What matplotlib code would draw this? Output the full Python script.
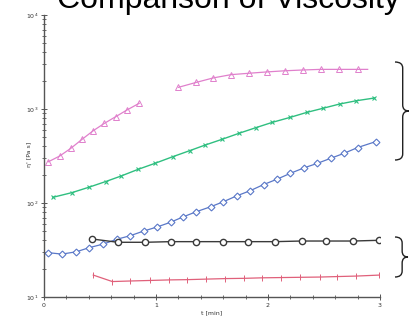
import matplotlib.pyplot as plt
import numpy as np
from matplotlib.path import Path
from matplotlib.patches import PathPatch
from matplotlib.ticker import MultipleLocator

# data (t in min, eta' in Pa s)
pink_t1 = [0.04, 0.14, 0.24, 0.34, 0.44, 0.54, 0.64, 0.74, 0.85]
pink_v1 = [275, 316, 382, 476, 588, 705, 828, 975, 1150]
pink_t2 = [1.20, 1.36, 1.51, 1.67, 1.83, 1.99, 2.15, 2.31, 2.47, 2.63, 2.80, 2.89]
pink_v2 = [1700, 1920, 2140, 2320, 2400, 2480, 2550, 2600, 2640, 2640, 2640, 2640]

green_t = [0.08, 0.25, 0.40, 0.55, 0.69, 0.84, 0.99, 1.15, 1.30, 1.44,
           1.59, 1.74, 1.89, 2.04, 2.20, 2.35, 2.49, 2.64, 2.79, 2.95]
green_v = [115, 129, 147, 169, 194, 228, 264, 311, 360, 414,
           476, 551, 632, 722, 816, 923, 1017, 1130, 1225, 1309]

blue_t = [0.04, 0.16, 0.29, 0.40, 0.53, 0.65, 0.77, 0.89, 1.01, 1.13,
          1.24, 1.36, 1.49, 1.60, 1.72, 1.84, 1.96, 2.08, 2.20, 2.32,
          2.44, 2.56, 2.68, 2.80, 2.96]
blue_v = [29.6, 28.6, 30.3, 33.4, 36.6, 41.1, 44.9, 50.3, 55.6, 62.4,
          71.0, 80.8, 91.4, 103, 119, 135, 157, 179, 207, 236,
          264, 299, 338, 389, 449]

black_t = [0.43, 0.66, 0.90, 1.13, 1.36, 1.60, 1.82, 2.06, 2.30, 2.52, 2.76, 2.99]
black_v = [41.4, 38.2, 38.2, 38.8, 38.8, 38.8, 38.8, 38.8, 39.4, 39.4, 39.4, 40.1]

red_t = [0.44, 0.61, 0.77, 0.95, 1.12, 1.28, 1.45, 1.62, 1.79, 1.95,
         2.12, 2.29, 2.46, 2.62, 2.79, 2.99]
red_v = [17.1, 14.6, 14.8, 15.0, 15.2, 15.3, 15.5, 15.7, 15.8, 16.0,
         16.1, 16.2, 16.3, 16.5, 16.7, 17.1]

fig = plt.figure(figsize=(4.1, 3.24), dpi=100)
ax = fig.add_axes([44 / 410, 27 / 324, 336 / 410, 282 / 324])

pink = '#e080cc'
ax.plot(pink_t1, pink_v1, color=pink, lw=0.9, marker='^', ms=4, mfc='none', mew=0.7)
ax.plot(pink_t2, pink_v2, color=pink, lw=0.9, marker='^', ms=4, mfc='none', mew=0.7,
        markevery=list(range(len(pink_t2) - 1)))
ax.plot(green_t, green_v, color='#2fbf80', lw=1.0, marker='x', ms=2.5, mew=0.8)
ax.plot(blue_t, blue_v, color='#5a78c8', lw=0.9, marker='D', ms=3.5, mfc='white', mew=0.8)
ax.plot(black_t, black_v, color='#3a3a3a', lw=1.0, marker='o', ms=4.5, mfc='white', mew=1.0)
ax.plot(red_t, red_v, color='#e0607a', lw=0.9, marker='|', ms=4, mew=0.7)

ax.set_yscale('log')
ax.set_xlim(0, 3)
ax.set_ylim(10, 10000)
ax.xaxis.set_major_locator(MultipleLocator(1))
ax.xaxis.set_minor_locator(MultipleLocator(0.2))
for s in ['top', 'right']:
    ax.spines[s].set_visible(False)
for s in ['left', 'bottom']:
    ax.spines[s].set_color('#555555')
    ax.spines[s].set_linewidth(1.0)
ax.tick_params(which='both', direction='inout', colors='#555555', labelsize=4.5,
               labelcolor='#333333', pad=2)
ax.tick_params(which='major', length=4, width=0.7)
ax.tick_params(which='minor', length=2.5, width=0.6)

ax.set_xlabel('t [min]', fontsize=4.5, color='#333333', labelpad=2)
ax.set_ylabel("η' [Pa s]", fontsize=4.5, color='#333333')
ax.yaxis.set_label_coords(-0.035, 0.504)

fig.text(57 / 410, 1 - 8 / 324, 'Comparison of Viscosity', fontsize=23,
         family='Liberation Sans', ha='left', va='baseline', color='black')


def brace(x, y_top, y_bot, w):
    # right-pointing curly brace in figure pixels
    ym = (y_top + y_bot) / 2
    r = min(6, (y_bot - y_top) / 4)
    xm = x + w * 0.55
    pts = [(x, y_top), (xm, y_top), (xm, y_top + r),
           (xm, ym - r),
           (xm, ym), (x + w, ym),
           (xm, ym), (xm, ym + r),
           (xm, y_bot - r),
           (xm, y_bot), (x, y_bot)]
    codes = [Path.MOVETO, Path.CURVE3, Path.CURVE3, Path.LINETO,
             Path.CURVE3, Path.CURVE3, Path.CURVE3, Path.CURVE3,
             Path.LINETO, Path.CURVE3, Path.CURVE3]
    pts = [(px / 410, 1 - py / 324) for px, py in pts]
    fig.add_artist(PathPatch(Path(pts, codes), transform=fig.transFigure,
                             fill=False, lw=1.0, color='#222222'))


brace(395, 62, 160, 14)
brace(395, 237, 277, 13)

fig.savefig('out.png', dpi=100)
